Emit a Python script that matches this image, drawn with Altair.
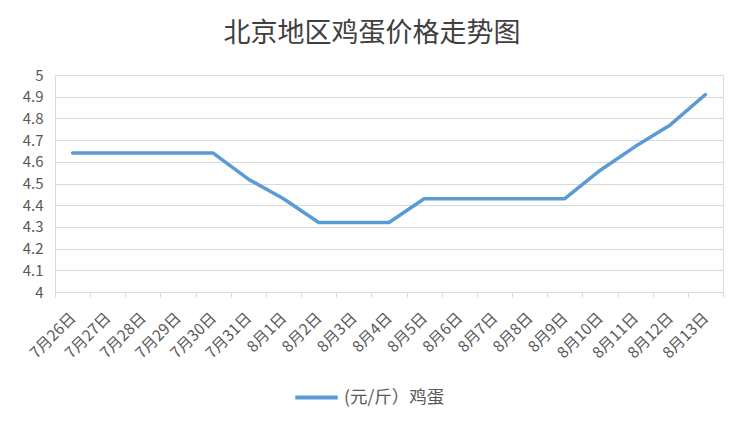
import altair as alt
import pandas as pd

dates = ["7月26日", "7月27日", "7月28日", "7月29日", "7月30日", "7月31日",
         "8月1日", "8月2日", "8月3日", "8月4日", "8月5日", "8月6日", "8月7日",
         "8月8日", "8月9日", "8月10日", "8月11日", "8月12日", "8月13日"]
prices = [4.64, 4.64, 4.64, 4.64, 4.64, 4.52, 4.43, 4.32, 4.32, 4.32,
          4.43, 4.43, 4.43, 4.43, 4.43, 4.56, 4.67, 4.77, 4.91]
series_name = "(元/斤）鸡蛋"
title_text = "北京地区鸡蛋价格走势图"

df = pd.DataFrame({"date": dates, "price": prices, "series": [series_name] * len(dates)})

FONT = "Noto Sans CJK SC"

chart = alt.Chart(df).mark_line(strokeWidth=3.5, strokeCap="round", strokeJoin="round").encode(
    x=alt.X("date:N", sort=dates, bandPosition=0.5,
            scale=alt.Scale(type="band", paddingInner=0, paddingOuter=0),
            axis=alt.Axis(title=None, labelAngle=-45, labelAlign="right", labelBaseline="middle",
                          labelPadding=18, labelFontSize=15.5, labelColor="#595959", labelFont=FONT,
                          tickBand="extent", tickSize=5, tickColor="#d9d9d9",
                          domainColor="#d9d9d9", domainWidth=1, grid=False)),
    y=alt.Y("price:Q", scale=alt.Scale(domain=[4, 5], nice=False, zero=False),
            axis=alt.Axis(title=None, values=[4.0, 4.1, 4.2, 4.3, 4.4, 4.5, 4.6, 4.7, 4.8, 4.9, 5.0],
                          labelExpr="datum.value == 4 ? '4' : datum.value == 5 ? '5' : format(datum.value, '.1f')",
                          labelFontSize=15, labelColor="#595959", labelFont=FONT, labelPadding=12,
                          domain=False, ticks=False, grid=True, gridColor="#d9d9d9", gridWidth=1)),
    color=alt.Color("series:N", scale=alt.Scale(range=["#5b9bd5"]),
                    legend=alt.Legend(title=None, orient="none", legendX=238, legendY=299,
                                      symbolType="stroke", symbolSize=1800, symbolStrokeWidth=4,
                                      labelFontSize=17.5, labelColor="#595959", labelFont=FONT,
                                      labelOffset=4))
).properties(
    width=668, height=217,
    title=alt.TitleParams(title_text, fontSize=27, font=FONT, fontWeight="normal",
                          color="#404040", anchor="middle", dx=-17, offset=20),
    autosize=alt.AutoSizeParams(type="none"),
    padding={"left": 47, "top": 67, "right": 15, "bottom": 130}
).configure_view(stroke=None).configure(background="white")

chart.save("out.html", embed_options={"renderer": "svg", "actions": False})
